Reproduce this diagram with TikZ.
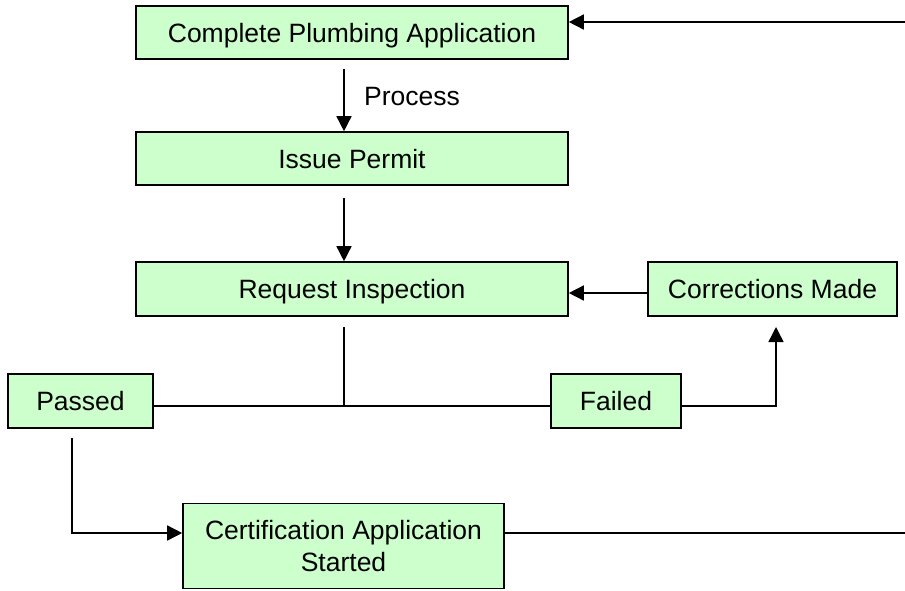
\documentclass[tikz,border=0pt]{standalone}
\usepackage{fontspec}
\setmainfont{Liberation Sans}
\usetikzlibrary{arrows.meta}
\definecolor{boxgreen}{HTML}{CCFFCC}
\tikzset{
  stepbox/.style={draw=black, fill=boxgreen, line width=1.6pt, rectangle, inner sep=0pt,
    font=\fontsize{26.5}{32}\selectfont, align=center},
  onebox/.style={stepbox, text height=19pt, text depth=0pt},
  conn/.style={line width=1.5pt, draw=black},
  arr/.style={conn, -{Triangle[length=15pt,width=15pt]}}
}
\begin{document}
\begin{tikzpicture}[x=1pt,y=-1pt]
\useasboundingbox (0,0) rectangle (905,590);
\node[onebox, minimum width=432pt, minimum height=53pt] (cpa) at (352,32.5) {Complete Plumbing Application};
\node[onebox, minimum width=432pt, minimum height=53pt] (ip) at (352,158.5) {Issue Permit};
\node[onebox, minimum width=432pt, minimum height=54pt] (ri) at (352,289) {Request Inspection};
\node[onebox, minimum width=249pt, minimum height=54pt] (cm) at (772.5,289) {Corrections Made};
\node[onebox, minimum width=145pt, minimum height=54pt] (pa) at (80.5,401) {Passed};
\node[onebox, minimum width=130pt, minimum height=54pt] (fa) at (616,401) {Failed};
\node[stepbox, minimum width=321pt, minimum height=85pt] (ca) at (343.5,546) {Certification Application\\Started};
\node[font=\fontsize{26.5}{32}\selectfont, anchor=west, inner sep=0pt] (proc) at (364,97) {Process};

\coordinate (topR) at (905,22);
\coordinate (botR) at (905,533);
\coordinate (p1s) at (344,69);
\coordinate (p2s) at (344,198);
\coordinate (ris) at (344,327);
\coordinate (junc) at (344,406);
\coordinate (cms) at (648,293);
\coordinate (fturn) at (776,406);
\coordinate (ftip) at (776,327);
\coordinate (pas) at (72,438);
\coordinate (pturn) at (72,533);

\draw[arr] (topR) -- (cpa.east |- topR);
\draw[arr] (p1s) -- (p1s |- ip.north);
\draw[arr] (p2s) -- (p2s |- ri.north);
\draw[arr] (cms) -- (ri.east |- cms);
\draw[conn] (ris) -- (junc);
\draw[conn] (pa.east |- junc) -- (fa.west |- junc);
\draw[arr] (fa.east |- fturn) -- (fturn) -- (ftip);
\draw[arr] (pas) -- (pturn) -- (ca.west |- pturn);
\draw[conn] (ca.east |- botR) -- (botR);
\end{tikzpicture}
\end{document}
